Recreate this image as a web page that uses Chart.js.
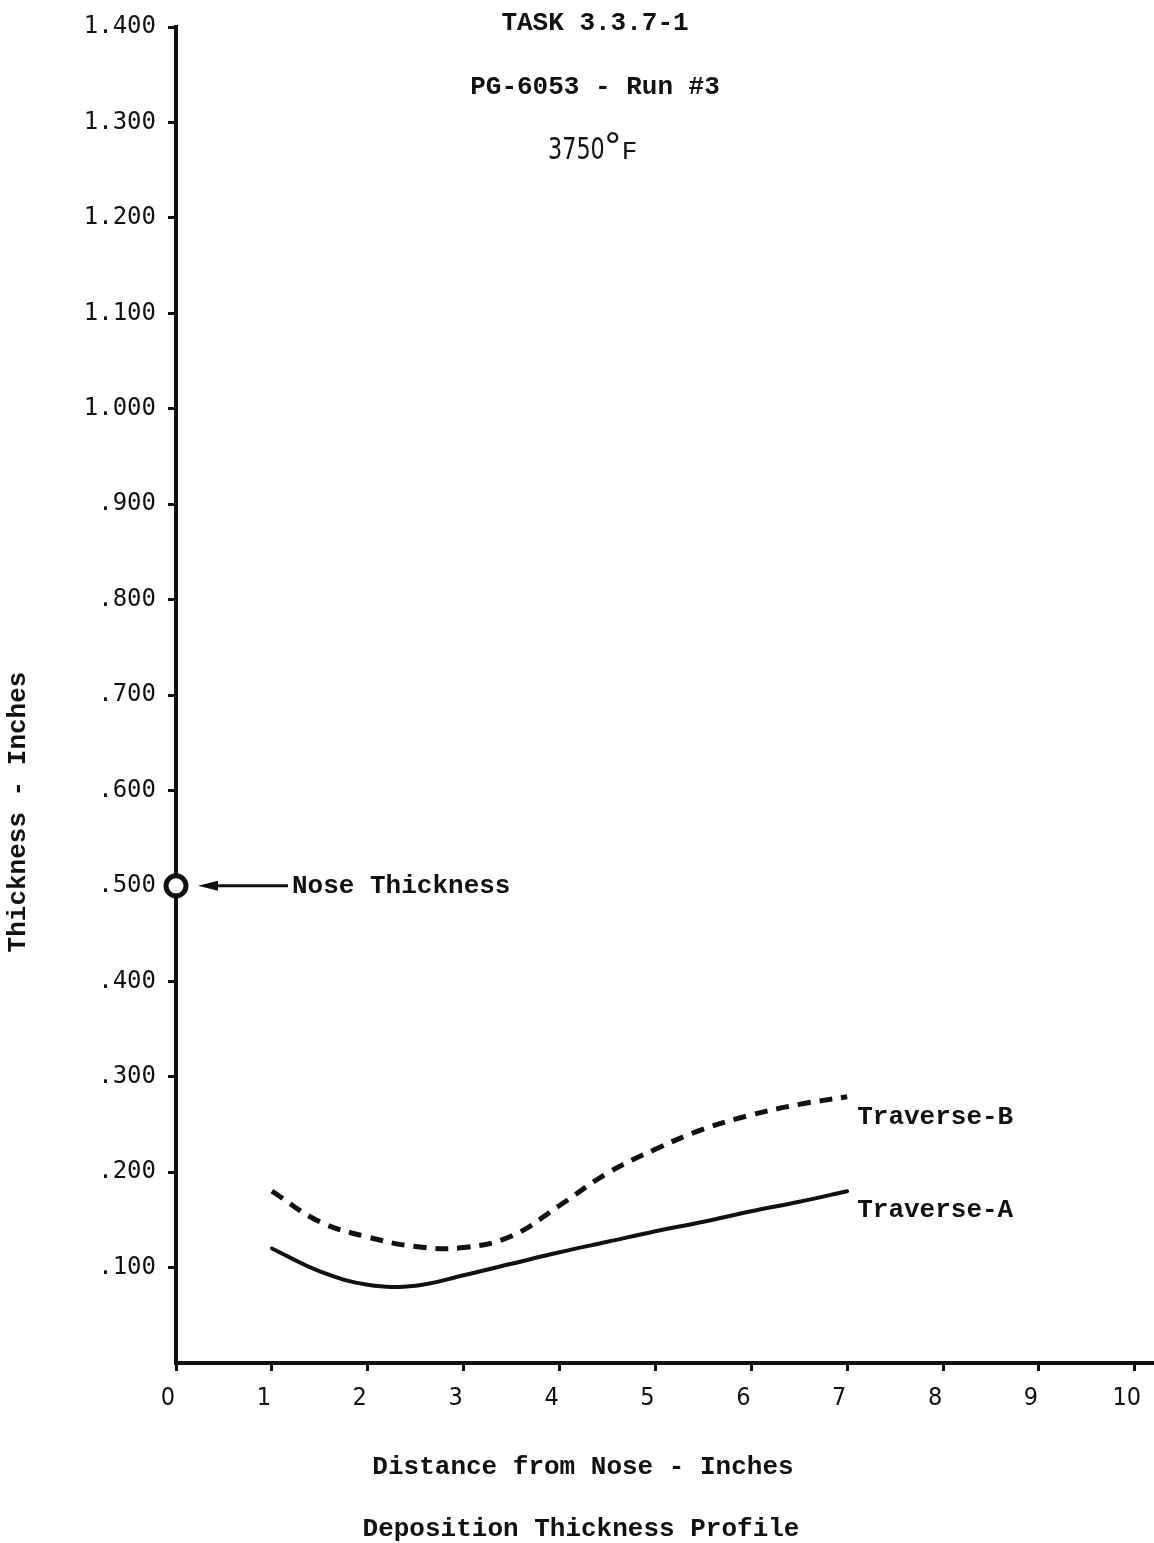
<!DOCTYPE html>
<html>
<head>
<meta charset="utf-8">
<title>Deposition Thickness Profile</title>
<script src="https://cdn.jsdelivr.net/npm/chart.js@4/dist/chart.umd.min.js"></script>
<style>
  body { margin: 0; background: #fff; }
  canvas { display: block; }
</style>
</head>
<body>
<canvas id="profileChart" width="1154" height="1543"></canvas>
<script>
// Distance from nose (inches) for both traverses
const distance = [1, 1.5, 2, 2.5, 3, 3.5, 4, 4.5, 5, 5.5, 6, 6.5, 7];
// Deposit thickness (inches) along each traverse
const traverseA = [0.120, 0.096, 0.082, 0.081, 0.092, 0.104, 0.116, 0.127, 0.138, 0.148, 0.159, 0.169, 0.180];
const traverseB = [0.180, 0.148, 0.132, 0.122, 0.121, 0.133, 0.165, 0.199, 0.224, 0.245, 0.260, 0.271, 0.279];
// Nose reading
const noseDistance = [0];
const noseThickness = [0.5];
// Tick values
const xTicks = [0, 1, 2, 3, 4, 5, 6, 7, 8, 9, 10];
const yTicks = [0.1, 0.2, 0.3, 0.4, 0.5, 0.6, 0.7, 0.8, 0.9, 1.0, 1.1, 1.2, 1.3, 1.4];

const typeFont = '"Liberation Mono", "Courier New", monospace';
const numFont = '"DejaVu Sans Mono", monospace';

function toPoints(xs, ys) {
  return xs.map((x, i) => ({ x: x, y: ys[i] }));
}

// Labels, arrow and titles drawn on top of the chart
const notesPlugin = {
  id: 'notes',
  afterDraw(chart) {
    const ctx = chart.ctx;
    const xs = chart.scales.x;
    const ys = chart.scales.y;
    ctx.save();
    ctx.fillStyle = '#111';
    ctx.strokeStyle = '#111';
    ctx.textBaseline = 'middle';

    // heading
    ctx.textAlign = 'center';
    ctx.font = 'bold 26px ' + typeFont;
    ctx.fillText('TASK 3.3.7-1', 595, 23);
    ctx.fillText('PG-6053 - Run #3', 595, 87);

    // temperature line, digits squeezed to a narrow face
    ctx.save();
    ctx.translate(548, 151);
    ctx.scale(0.72, 1);
    ctx.textAlign = 'left';
    ctx.font = '31px "DejaVu Sans", sans-serif';
    ctx.fillText('3750', 0, 0);
    const w = ctx.measureText('3750').width * 0.72;
    ctx.restore();
    ctx.textAlign = 'left';
    ctx.font = '36px "DejaVu Sans", sans-serif';
    ctx.fillText('°', 548 + w - 1, 149);
    ctx.font = '26px ' + typeFont;
    ctx.fillText('F', 548 + w + 17, 152);

    // nose thickness arrow
    const nx = xs.getPixelForValue(noseDistance[0]);
    const ny = ys.getPixelForValue(noseThickness[0]);
    ctx.lineWidth = 3;
    ctx.beginPath();
    ctx.moveTo(nx + 36, ny);
    ctx.lineTo(nx + 112, ny);
    ctx.stroke();
    ctx.beginPath();
    ctx.moveTo(nx + 22, ny);
    ctx.lineTo(nx + 42, ny - 5);
    ctx.lineTo(nx + 42, ny + 5);
    ctx.closePath();
    ctx.fill();
    ctx.font = 'bold 26px ' + typeFont;
    ctx.fillText('Nose Thickness', nx + 116, ny + 1);

    // traverse labels beside the line ends
    const last = distance.length - 1;
    const lx = xs.getPixelForValue(distance[last]) + 10;
    ctx.fillText('Traverse-B', lx, ys.getPixelForValue(traverseB[last]) + 21);
    ctx.fillText('Traverse-A', lx, ys.getPixelForValue(traverseA[last]) + 19);

    // axis titles and caption
    ctx.textAlign = 'center';
    ctx.fillText('Distance from Nose - Inches', 583, 1467);
    ctx.fillText('Deposition Thickness Profile', 581, 1529);
    ctx.translate(18, 812);
    ctx.rotate(-Math.PI / 2);
    ctx.fillText('Thickness - Inches', 0, 0);
    ctx.restore();
  }
};

new Chart(document.getElementById('profileChart'), {
  type: 'line',
  data: {
    datasets: [
      {
        label: 'Traverse-A',
        data: toPoints(distance, traverseA),
        borderColor: '#111',
        borderWidth: 4,
        pointRadius: 0,
        tension: 0.4,
        borderCapStyle: 'round'
      },
      {
        label: 'Traverse-B',
        data: toPoints(distance, traverseB),
        borderColor: '#111',
        borderWidth: 5,
        borderDash: [13, 9],
        pointRadius: 0,
        tension: 0.4
      },
      {
        label: 'Nose Thickness',
        data: toPoints(noseDistance, noseThickness),
        showLine: false,
        pointRadius: 10,
        pointBorderWidth: 5,
        pointBorderColor: '#111',
        pointBackgroundColor: '#fff',
        clip: false
      },
      {
        label: 'Nose center',
        data: toPoints(noseDistance, noseThickness),
        showLine: false,
        pointRadius: 3,
        pointBorderWidth: 0,
        pointBackgroundColor: '#111',
        clip: false
      }
    ]
  },
  options: {
    responsive: false,
    animation: false,
    layout: { autoPadding: false, padding: { top: 27, right: 0, left: 0, bottom: 0 } },
    plugins: {
      legend: { display: false },
      tooltip: { enabled: false }
    },
    scales: {
      x: {
        type: 'linear',
        min: 0,
        max: 10.2,
        afterFit(scale) {
          scale.height = 180;
          scale.paddingLeft = 0;
          scale.paddingRight = 0;
        },
        afterBuildTicks(scale) { scale.ticks = xTicks.map(v => ({ value: v })); },
        border: { display: true, color: '#111', width: 4 },
        grid: { drawOnChartArea: false, drawTicks: true, tickLength: 8, tickWidth: 3, color: '#111' },
        ticks: {
          color: '#111',
          padding: 12,
          labelOffset: -8,
          maxRotation: 0,
          autoSkip: false,
          font: { family: '"Liberation Sans Narrow", "DejaVu Sans Condensed", "DejaVu Sans", sans-serif', size: 25 }
        }
      },
      y: {
        type: 'linear',
        min: 0,
        max: 1.4,
        afterFit(scale) { scale.width = 176; },
        afterBuildTicks(scale) { scale.ticks = yTicks.map(v => ({ value: v })); },
        border: { display: true, color: '#111', width: 4 },
        grid: { drawOnChartArea: false, drawTicks: true, tickLength: 8, tickWidth: 3, color: '#111' },
        ticks: {
          color: '#111',
          padding: 12,
          autoSkip: false,
          font: { family: numFont, size: 24 },
          callback: (v) => (v >= 1 ? v.toFixed(3) : v.toFixed(3).slice(1))
        }
      }
    }
  },
  plugins: [notesPlugin]
});
</script>
</body>
</html>
